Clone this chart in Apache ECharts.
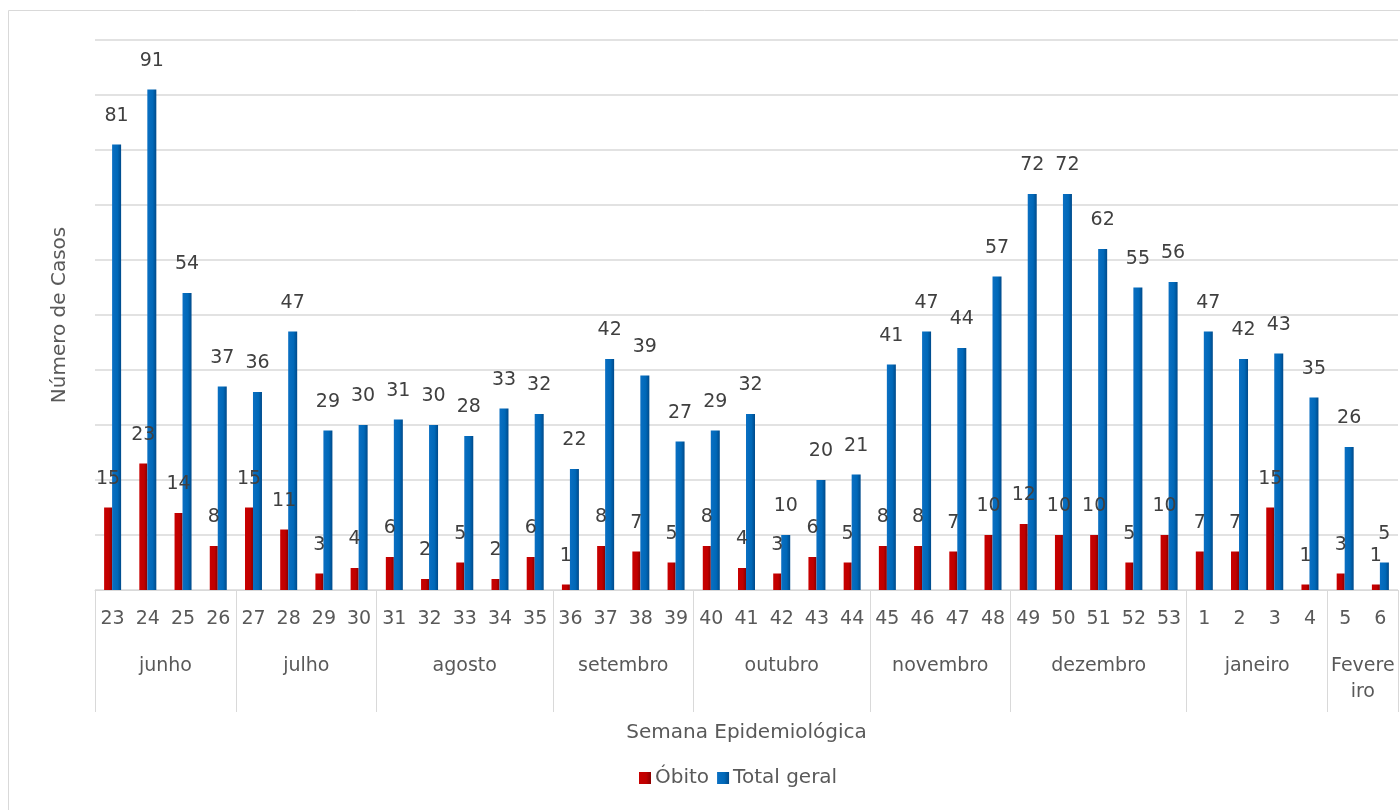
<!DOCTYPE html>
<html><head><meta charset="utf-8">
<script src="https://cdn.jsdelivr.net/npm/echarts@6/dist/echarts.min.js"></script>
<style>html,body{margin:0;padding:0;background:#fff}#c{width:1400px;height:810px}</style>
</head><body><div id="c"></div>
<script>
const weeks = ['23','24','25','26','27','28','29','30','31','32','33','34','35','36','37','38','39','40','41','42','43','44','45','46','47','48','49','50','51','52','53','1','2','3','4','5','6'];
const obito = [15,23,14,8,15,11,3,4,6,2,5,2,6,1,8,7,5,8,4,3,6,5,8,8,7,10,12,10,10,5,10,7,7,15,1,3,1];
const total = [81,91,54,37,36,47,29,30,31,30,28,33,32,22,42,39,27,29,32,10,20,21,41,47,44,57,72,72,62,55,56,47,42,43,35,26,5];
const months = ['junho','julho','agosto','setembro','outubro','novembro','dezembro','janeiro','Fevere\niro'];
const monthCounts = [4,4,5,4,5,4,5,4,2];

const bounds = [0]; const centers = [];
monthCounts.forEach(n => { const s = bounds[bounds.length-1]; centers.push(s + n/2); bounds.push(s + n); });

const FONT = 'DejaVu Sans';
const TXT = '#595959';
const chart = echarts.init(document.getElementById('c'));
chart.setOption({
  animation: false,
  textStyle: {fontFamily: FONT},
  graphic: [{type:'rect', shape:{x:8.5,y:10.5,width:1500,height:900}, style:{fill:null, stroke:'#d9d9d9', lineWidth:1}, silent:true}],
  grid: {left: 95, right: 2, top: 40, bottom: 220},
  legend: {
    left: 634, top: 763, itemWidth: 12, itemHeight: 12, itemGap: 8,
    textStyle: {fontFamily: FONT, fontSize: 20, color: TXT, padding:[0,0,0,-1]},
    data: [{name:'Óbito', icon:'rect'}, {name:'Total geral', icon:'rect'}]
  },
  xAxis: [{
    type: 'category', data: weeks,
    axisLine: {lineStyle: {color: '#d9d9d9', width: 1}},
    axisTick: {show: false},
    axisLabel: {fontSize: 19, color: TXT, margin: 20, interval: 0},
    name: 'Semana Epidemiológica', nameLocation: 'middle', nameGap: 133,
    nameTextStyle: {fontSize: 20, color: TXT}
  }, {
    type: 'value', min: 0, max: 37, position: 'bottom',
    axisLine: {show: false}, splitLine: {show: false},
    axisTick: {show: true, length: 122, customValues: bounds, lineStyle: {color: '#d9d9d9', width: 1}},
    axisLabel: {show: true, customValues: centers, margin: 63, fontSize: 19, color: TXT, lineHeight: 26,
      formatter: v => { const i = centers.findIndex(c => Math.abs(c - v) < 1e-6); return i >= 0 ? months[i] : ''; }}
  }],
  yAxis: {
    type: 'value', min: 0, max: 100, interval: 10,
    axisLabel: {show: false}, axisLine: {show: false}, axisTick: {show: false},
    splitLine: {lineStyle: {color: '#d9d9d9', width: 1.5}},
    name: 'Número de Casos', nameLocation: 'middle', nameGap: 25, nameRotate: 90,
    nameTextStyle: {fontSize: 20, color: TXT}
  },
  series: [{
    name: 'Óbito', type: 'bar', data: obito, barWidth: 8, barGap: '0%',
    itemStyle: {color: new echarts.graphic.LinearGradient(0,0,1,0,[{offset:0,color:'#c80000'},{offset:0.6,color:'#c00000'},{offset:1,color:'#8a0000'}])},
    label: {show: true, position: 'top', distance: 19, fontSize: 19, color: '#404040'}
  }, {
    name: 'Total geral', type: 'bar', data: total, barWidth: 9,
    itemStyle: {color: new echarts.graphic.LinearGradient(0,0,1,0,[{offset:0,color:'#0a6fc2'},{offset:0.6,color:'#0068b8'},{offset:1,color:'#004a8a'}])},
    label: {show: true, position: 'top', distance: 19, fontSize: 19, color: '#404040'}
  }]
});
</script></body></html>
